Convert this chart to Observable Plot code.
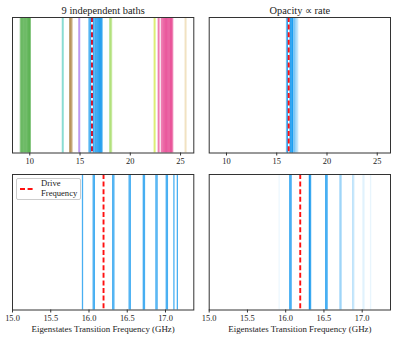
<!DOCTYPE html>
<html><head><meta charset="utf-8">
<script src="https://cdn.jsdelivr.net/npm/d3@7"></script>
<script src="https://cdn.jsdelivr.net/npm/@observablehq/plot@0.6"></script>
<style>
body{margin:0;background:#fff;}
#wrap{position:relative;width:396px;height:339px;font-family:"Liberation Serif",serif;color:#222;}
#wrap > svg, #wrap > div{position:absolute;}
#legend{left:16px;top:177.5px;width:63px;height:20px;border:1px solid #ccc;border-radius:2px;background:rgba(255,255,255,0.85);font-size:8.6px;line-height:9.5px;}
</style></head><body><div id="wrap"></div>
<script>
// ---- data ----
const driveFrequency = 16.19;
const bathNames = ["green", "teal", "brown", "purple", "blue", "lightgreen", "yellowgreen", "pink", "tan"];
const greenBath = [9.1, 9.22, 9.35, 9.47, 9.58, 9.7, 9.82, 9.93, 10.02];
const tealBath = [13.28];
const brownBath = [14.0, 14.15];
const purpleBath = [14.92];
const blueBath = [15.915, 16.055, 16.07, 16.31, 16.325, 16.525, 16.54, 16.71, 16.725, 16.875, 16.89, 17.01, 17.025, 17.11, 17.155];
const blueRates = [0.08, 1, 0.9, 1, 0.85, 1, 0.9, 0.45, 0.35, 0.28, 0.2, 0.12, 0.1, 0.1, 0];
const lightgreenBath = [17.98, 18.1];
const yellowgreenBath = [22.42];
const pinkBath = [22.82, 23.13, 23.3, 23.42, 23.55, 23.68, 23.8, 23.93, 24.05, 24.18];
const tanBath = [25.5];
const topTicks = [10, 15, 20, 25];
const bottomTicks = [15.0, 15.5, 16.0, 16.5, 17.0];
const topTitles = ["9 independent baths", "Opacity \u221d rate"];
const xLabel = "Eigenstates Transition Frequency (GHz)";
const legendLabel = ["Drive", "Frequency"];

// ---- build tables ----
const baths = [greenBath, tealBath, brownBath, purpleBath, blueBath, lightgreenBath, yellowgreenBath, pinkBath, tanBath];
const allLines = baths.flatMap((arr, i) => arr.map((f, j) => ({f, bath: bathNames[i], rate: i === 4 ? blueRates[j] : 0})));
const blueLines = blueBath.map((f, i) => ({f, rate: blueRates[i]}));

const bathColors = ["#3fa535", "#3cc4b4", "#9c6a1c", "#8f55e8", "#1a9bef", "#9ed85a", "#c4e31d", "#e3277f", "#e8cf9a"];
const BLUE = "#1a9bef";
const wrap = document.getElementById("wrap");
const topDomain = [8.28, 26.32];
const botDomain = [15.0, 17.37];

function panel({left, top, width, height, mL, mR, mT, mB, domain, ticks, fmt, marks}) {
  const svg = Plot.plot({
    width, height, marginLeft: mL, marginRight: mR, marginTop: mT, marginBottom: mB,
    x: {domain, axis: null},
    color: {domain: bathNames, range: bathColors},
    style: {fontFamily: "Liberation Serif, serif", fontSize: "8.4px", color: "#222", background: "transparent", overflow: "visible"},
    marks: [
      ...marks,
      Plot.frame({stroke: "#333", strokeWidth: 1}),
      Plot.axisX({ticks, tickSize: 3, tickPadding: 2, tickFormat: fmt, label: null, stroke: "#333", fontSize: 8.4})
    ]
  });
  svg.style.left = left + "px";
  svg.style.top = top + "px";
  wrap.appendChild(svg);
}

function driveMarks(withWhite, color) {
  const d = [driveFrequency];
  const m = [];
  if (withWhite) m.push(Plot.ruleX(d, {x: d => d, stroke: "white", strokeWidth: 1.6}));
  m.push(Plot.ruleX(d, {x: d => d, stroke: color, strokeWidth: 1.9, strokeDasharray: "5,2.6"}));
  return m;
}

// Top-left
panel({left: 0, top: 0, width: 198, height: 170, mL: 12, mR: 4.7, mT: 17, mB: 17.5,
  domain: topDomain, ticks: topTicks, fmt: d3.format("d"),
  marks: [
    Plot.ruleX(allLines, {x: "f", stroke: "bath", strokeWidth: 2, strokeOpacity: 0.6}),
    ...driveMarks(true, "#c8102e"),
    Plot.text([topTitles[0]], {text: d => d, frameAnchor: "top", dy: -7, lineAnchor: "middle", fontSize: 10.4})
  ]});

// Top-right
panel({left: 196, top: 0, width: 200, height: 170, mL: 12.7, mR: 6, mT: 17, mB: 17.5,
  domain: topDomain, ticks: topTicks, fmt: d3.format("d"),
  marks: [
    Plot.ruleX(allLines, {x: "f", stroke: "bath", strokeWidth: 1.6, strokeOpacity: "rate"}),
    ...driveMarks(true, "#ff1010"),
    Plot.text([topTitles[1]], {text: d => d, frameAnchor: "top", dy: -7, lineAnchor: "middle", fontSize: 10.4})
  ]});

// Bottom-left
panel({left: 0, top: 170, width: 198, height: 169, mL: 12, mR: 4.7, mT: 4, mB: 29.5,
  domain: botDomain, ticks: bottomTicks, fmt: d3.format(".1f"),
  marks: [
    Plot.ruleX(blueLines, {x: "f", stroke: BLUE, strokeWidth: 1.3, strokeOpacity: 0.8}),
    ...driveMarks(false, "#ff1010"),
    Plot.text([xLabel], {text: d => d, frameAnchor: "bottom", dy: 19.5, lineAnchor: "middle", fontSize: 8.9})
  ]});

// Bottom-right
panel({left: 196, top: 170, width: 200, height: 169, mL: 12.7, mR: 6, mT: 4, mB: 29.5,
  domain: botDomain, ticks: bottomTicks, fmt: d3.format(".1f"),
  marks: [
    Plot.ruleX(blueLines, {x: "f", stroke: BLUE, strokeWidth: 1.3, strokeOpacity: "rate"}),
    ...driveMarks(false, "#ff1010"),
    Plot.text([xLabel], {text: d => d, frameAnchor: "bottom", dy: 19.5, lineAnchor: "middle", fontSize: 8.9})
  ]});

// Legend
const leg = document.createElement("div");
leg.id = "legend";
leg.innerHTML = `<svg width="18" height="20" style="position:absolute;left:2px;top:0"><line x1="1" x2="16" y1="10" y2="10" stroke="#ff1010" stroke-width="2" stroke-dasharray="5,2.6"/></svg>
<div style="position:absolute;left:24px;top:0.5px">${legendLabel[0]}<br>${legendLabel[1]}</div>`;
wrap.appendChild(leg);
</script>
</body></html>
